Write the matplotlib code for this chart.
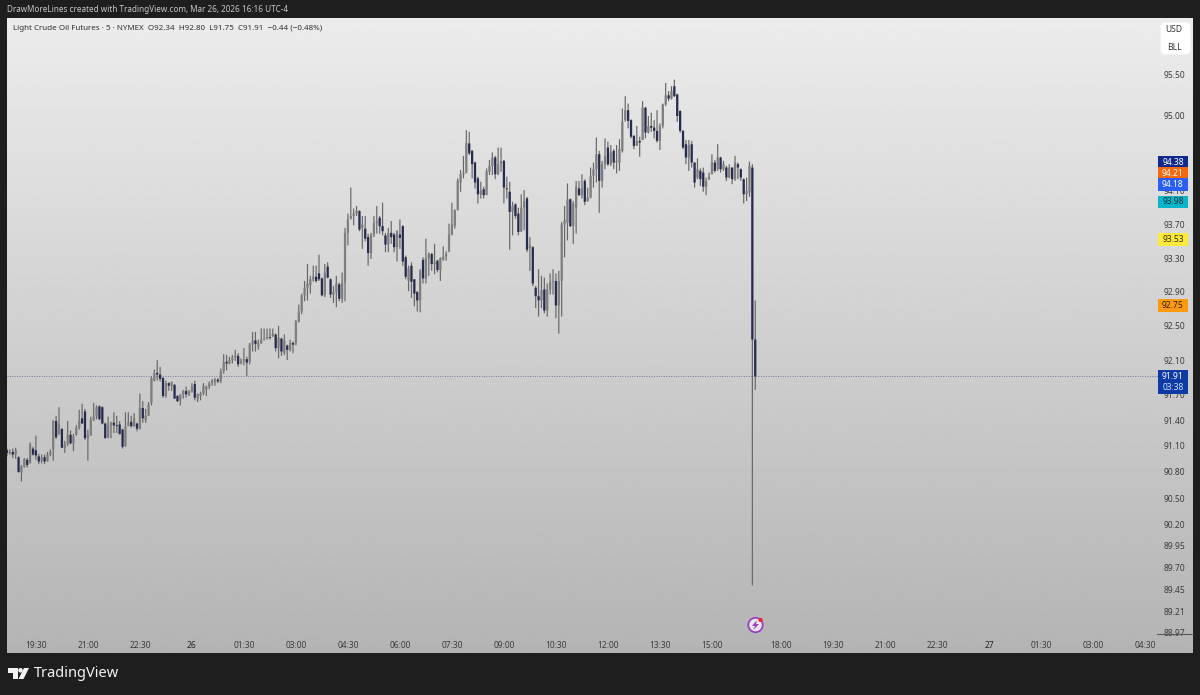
import numpy as np
import matplotlib
matplotlib.use('Agg')
import matplotlib.pyplot as plt
from matplotlib.patches import Polygon, Circle, FancyBboxPatch, Rectangle

plt.rcParams['font.family'] = ['Noto Sans', 'DejaVu Sans']

# 5 min bars, first bar 18:40, last one 16:15
opens = [
    91.05, 91.02, 91.03, 91.00, 90.97, 90.80, 90.86, 90.94, 90.90, 91.07,
    91.05, 90.98, 90.93, 90.97, 90.92, 91.00, 91.06, 91.39, 91.24, 91.30,
    91.08, 91.12, 91.23, 91.13, 91.23, 91.31, 91.42, 91.50, 91.19, 91.22,
    91.40, 91.44, 91.56, 91.55, 91.36, 91.20, 91.34, 91.37, 91.34, 91.35,
    91.29, 91.10, 91.33, 91.38, 91.33, 91.36, 91.30, 91.54, 91.40, 91.45,
    91.60, 91.86, 91.95, 91.93, 91.89, 91.68, 91.83, 91.80, 91.81, 91.68,
    91.63, 91.70, 91.74, 91.70, 91.73, 91.82, 91.65, 91.68, 91.71, 91.76,
    91.79, 91.83, 91.85, 91.87, 91.85, 91.97, 92.08, 92.06, 92.10, 92.13,
    92.15, 92.06, 92.09, 92.11, 92.08, 92.28, 92.33, 92.26, 92.30, 92.34,
    92.35, 92.37, 92.38, 92.40, 92.24, 92.35, 92.18, 92.27, 92.22, 92.30,
    92.30, 92.55, 92.67, 92.86, 92.95, 92.98, 93.05, 93.08, 93.12, 93.06,
    92.86, 93.20, 93.05, 92.87, 92.90, 92.99, 92.82, 93.01, 93.60, 93.77,
    93.80, 93.83, 93.86, 93.66, 93.65, 93.55, 93.36, 93.58, 93.72, 93.78,
    93.68, 93.57, 93.46, 93.60, 93.58, 93.43, 93.58, 93.68, 93.31, 93.03,
    93.21, 93.05, 92.90, 92.80, 93.28, 93.06, 93.30, 93.35, 93.23, 93.27,
    93.16, 93.28, 93.32, 93.38, 93.58, 93.68, 93.87, 94.20, 94.30, 94.32,
    94.67, 94.58, 94.44, 94.25, 94.06, 94.12, 94.05, 94.33, 94.40, 94.50,
    94.30, 94.42, 94.46, 94.13, 94.09, 93.85, 93.94, 93.83, 93.62, 93.90,
    94.01, 93.42, 93.43, 92.95, 92.85, 92.80, 92.93, 92.68, 92.93, 93.02,
    93.03, 92.74, 93.03, 93.70, 93.72, 94.00, 93.68, 93.90, 94.13, 94.05,
    94.22, 93.98, 94.02, 94.28, 94.36, 94.54, 94.22, 94.42, 94.62, 94.42,
    94.58, 94.44, 94.44, 94.58, 94.95, 95.07, 94.95, 94.76, 94.64, 94.70,
    94.71, 95.10, 94.80, 94.88, 94.86, 94.82, 94.70, 94.88, 95.14, 95.25,
    95.21, 95.36, 95.26, 95.06, 94.82, 94.66, 94.50, 94.66, 94.44, 94.26,
    94.34, 94.32, 94.15, 94.24, 94.30, 94.44, 94.36, 94.50, 94.36, 94.38,
    94.26, 94.38, 94.24, 94.42, 94.36, 94.24, 94.06, 94.08, 94.38, 92.34,
]
highs = [
    91.07, 91.06, 91.07, 91.08, 90.98, 90.88, 90.96, 90.96, 91.14, 91.09,
    91.22, 91.01, 91.00, 91.00, 91.03, 91.06, 91.40, 91.45, 91.55, 91.30,
    91.16, 91.39, 91.28, 91.24, 91.34, 91.52, 91.59, 91.53, 91.29, 91.44,
    91.60, 91.57, 91.57, 91.56, 91.37, 91.44, 91.38, 91.49, 91.45, 91.39,
    91.30, 91.49, 91.49, 91.45, 91.48, 91.37, 91.71, 91.62, 91.53, 91.61,
    91.91, 91.99, 92.10, 92.02, 91.90, 91.86, 91.84, 91.85, 91.82, 91.69,
    91.70, 91.75, 91.79, 91.75, 91.83, 91.86, 91.71, 91.73, 91.83, 91.80,
    91.85, 91.88, 91.89, 91.89, 92.00, 92.17, 92.16, 92.14, 92.16, 92.22,
    92.18, 92.12, 92.24, 92.14, 92.30, 92.43, 92.43, 92.34, 92.47, 92.47,
    92.47, 92.47, 92.47, 92.41, 92.50, 92.36, 92.40, 92.28, 92.34, 92.32,
    92.57, 92.75, 92.88, 93.03, 93.23, 93.09, 93.21, 93.21, 93.34, 93.07,
    93.23, 93.25, 93.06, 92.97, 93.09, 93.01, 93.13, 93.66, 93.83, 94.14,
    93.89, 93.92, 93.87, 93.80, 93.80, 93.59, 93.60, 93.80, 93.92, 93.80,
    93.96, 93.60, 93.66, 93.74, 93.60, 93.63, 93.76, 93.69, 93.33, 93.21,
    93.25, 93.05, 92.91, 93.17, 93.31, 93.53, 93.37, 93.36, 93.47, 93.28,
    93.31, 93.44, 93.38, 93.71, 93.96, 93.88, 94.25, 94.35, 94.52, 94.83,
    94.81, 94.59, 94.45, 94.27, 94.21, 94.15, 94.37, 94.47, 94.56, 94.52,
    94.62, 94.62, 94.47, 94.27, 94.21, 93.97, 93.95, 93.90, 94.06, 94.11,
    94.03, 93.55, 93.44, 92.97, 93.17, 93.09, 93.07, 93.00, 93.12, 93.17,
    93.12, 93.15, 93.73, 93.92, 94.19, 94.01, 93.98, 94.22, 94.22, 94.30,
    94.24, 94.14, 94.38, 94.44, 94.74, 94.58, 94.46, 94.73, 94.69, 94.65,
    94.60, 94.65, 94.72, 95.09, 95.24, 95.15, 94.96, 94.77, 94.88, 94.75,
    95.18, 95.11, 95.00, 95.04, 94.95, 95.07, 94.91, 95.15, 95.40, 95.30,
    95.36, 95.44, 95.27, 95.07, 94.83, 94.71, 94.71, 94.70, 94.44, 94.49,
    94.37, 94.38, 94.26, 94.32, 94.54, 94.47, 94.66, 94.51, 94.46, 94.40,
    94.42, 94.38, 94.52, 94.44, 94.37, 94.25, 94.26, 94.45, 94.42, 92.80,
]
lows = [
    90.98, 91.00, 90.96, 90.95, 90.79, 90.69, 90.85, 90.85, 90.90, 90.99,
    90.94, 90.89, 90.90, 90.89, 90.92, 90.98, 90.93, 91.18, 91.23, 91.08,
    91.02, 91.10, 91.12, 91.04, 91.22, 91.29, 91.36, 91.17, 90.93, 91.22,
    91.39, 91.41, 91.40, 91.35, 91.19, 91.19, 91.19, 91.25, 91.25, 91.23,
    91.07, 91.09, 91.33, 91.31, 91.32, 91.27, 91.29, 91.37, 91.37, 91.45,
    91.57, 91.85, 91.86, 91.85, 91.66, 91.66, 91.74, 91.74, 91.65, 91.61,
    91.57, 91.65, 91.66, 91.68, 91.72, 91.63, 91.61, 91.63, 91.69, 91.68,
    91.76, 91.80, 91.80, 91.83, 91.83, 91.94, 91.98, 92.05, 92.06, 92.09,
    92.02, 92.05, 92.04, 91.91, 92.05, 92.20, 92.20, 92.22, 92.29, 92.33,
    92.34, 92.34, 92.37, 92.20, 92.12, 92.15, 92.16, 92.10, 92.20, 92.18,
    92.27, 92.54, 92.64, 92.79, 92.80, 92.88, 93.02, 93.01, 93.03, 92.85,
    92.84, 93.06, 92.83, 92.77, 92.72, 92.79, 92.77, 92.79, 93.45, 93.76,
    93.69, 93.80, 93.62, 93.41, 93.50, 93.21, 93.29, 93.55, 93.59, 93.59,
    93.57, 93.37, 93.37, 93.47, 93.37, 93.26, 93.41, 93.21, 93.05, 92.91,
    92.83, 92.73, 92.67, 92.66, 93.00, 93.00, 93.09, 93.15, 93.11, 93.13,
    93.03, 93.27, 93.27, 93.37, 93.57, 93.65, 93.87, 94.09, 94.25, 94.31,
    94.53, 94.25, 94.13, 93.95, 94.01, 94.01, 94.05, 94.29, 94.29, 94.24,
    94.29, 94.33, 93.95, 94.01, 93.40, 93.57, 93.77, 93.57, 93.61, 93.63,
    93.37, 93.15, 92.97, 92.71, 92.61, 92.71, 92.65, 92.61, 92.87, 92.87,
    92.59, 92.41, 92.61, 93.31, 93.51, 93.67, 93.47, 93.59, 94.04, 94.01,
    93.93, 93.97, 94.01, 94.14, 94.20, 93.84, 94.14, 94.36, 94.40, 94.40,
    94.36, 94.31, 94.34, 94.56, 94.93, 94.85, 94.73, 94.60, 94.64, 94.51,
    94.71, 94.73, 94.79, 94.81, 94.73, 94.68, 94.59, 94.85, 95.12, 95.18,
    95.20, 95.23, 94.93, 94.80, 94.60, 94.42, 94.34, 94.38, 94.14, 94.24,
    94.16, 94.09, 94.05, 94.23, 94.30, 94.32, 94.34, 94.32, 94.34, 94.22,
    94.25, 94.18, 94.22, 94.24, 94.22, 93.95, 93.98, 94.03, 89.50, 91.75,
]
closes = [
    91.02, 91.03, 91.00, 91.05, 90.80, 90.86, 90.95, 90.88, 91.12, 91.00,
    90.99, 90.92, 90.97, 90.92, 91.00, 91.03, 91.39, 91.20, 91.35, 91.08,
    91.12, 91.23, 91.13, 91.21, 91.31, 91.39, 91.36, 91.19, 91.23, 91.40,
    91.44, 91.55, 91.41, 91.36, 91.19, 91.34, 91.37, 91.34, 91.33, 91.24,
    91.09, 91.33, 91.38, 91.33, 91.42, 91.30, 91.54, 91.42, 91.45, 91.58,
    91.89, 91.95, 91.93, 91.88, 91.68, 91.83, 91.80, 91.84, 91.65, 91.62,
    91.70, 91.74, 91.70, 91.73, 91.79, 91.66, 91.70, 91.71, 91.80, 91.79,
    91.83, 91.86, 91.87, 91.85, 91.97, 92.07, 92.06, 92.10, 92.13, 92.15,
    92.05, 92.09, 92.11, 92.07, 92.28, 92.33, 92.29, 92.30, 92.34, 92.35,
    92.37, 92.36, 92.41, 92.24, 92.36, 92.20, 92.33, 92.22, 92.30, 92.28,
    92.55, 92.67, 92.86, 92.95, 93.00, 93.05, 93.08, 93.03, 93.05, 92.86,
    93.13, 93.07, 92.87, 92.90, 93.00, 92.82, 93.01, 93.60, 93.76, 93.80,
    93.83, 93.86, 93.64, 93.70, 93.53, 93.36, 93.58, 93.72, 93.74, 93.68,
    93.62, 93.46, 93.60, 93.55, 93.43, 93.62, 93.54, 93.26, 93.08, 93.18,
    93.02, 92.88, 92.80, 93.15, 93.06, 93.30, 93.35, 93.23, 93.25, 93.16,
    93.30, 93.32, 93.35, 93.58, 93.70, 93.87, 94.22, 94.30, 94.32, 94.67,
    94.55, 94.42, 94.20, 94.06, 94.10, 94.05, 94.34, 94.40, 94.50, 94.30,
    94.42, 94.46, 94.14, 94.12, 93.85, 93.92, 93.80, 93.61, 93.90, 93.98,
    93.40, 93.45, 93.00, 92.85, 92.80, 92.92, 92.68, 92.93, 93.02, 93.03,
    92.74, 93.03, 93.70, 93.75, 94.00, 93.68, 93.95, 94.15, 94.05, 94.13,
    93.97, 94.02, 94.28, 94.36, 94.54, 94.22, 94.42, 94.52, 94.42, 94.56,
    94.44, 94.46, 94.60, 94.93, 95.07, 94.94, 94.75, 94.64, 94.70, 94.68,
    95.10, 94.80, 94.88, 94.86, 94.82, 94.70, 94.88, 95.14, 95.25, 95.21,
    95.30, 95.24, 95.00, 94.82, 94.62, 94.50, 94.65, 94.44, 94.20, 94.36,
    94.24, 94.15, 94.22, 94.27, 94.44, 94.34, 94.50, 94.36, 94.42, 94.26,
    94.38, 94.24, 94.44, 94.38, 94.26, 94.06, 94.10, 94.40, 92.34, 91.91,
]

price_ticks = [95.50, 95.00, 94.10, 93.70, 93.30, 92.90, 92.50, 92.10, 91.70, 91.40,
               91.10, 90.80, 90.50, 90.20, 89.95, 89.70, 89.45, 89.21, 88.97]
time_pos = [10, 28, 46, 64, 82, 100, 118, 136, 154, 172, 190, 208, 226, 244,
            268, 286, 304, 322, 340, 358, 376, 394]
time_labels = ['19:30', '21:00', '22:30', '26', '01:30', '03:00', '04:30', '06:00',
               '07:30', '09:00', '10:30', '12:00', '13:30', '15:00', '18:00',
               '19:30', '21:00', '22:30', '27', '01:30', '03:00', '04:30']
last_price = 91.91
tag_prices = [94.38, 94.21, 94.18, 93.98, 93.53, 92.75]
tag_colors = ['#0f2a8c', '#f7680f', '#2a5ff5', '#07b4c8', '#fdea3c', '#fb9a10']
tag_text = ['white', 'white', 'white', '#10303a', '#333300', '#332000']
# tradingview pushes labels apart so they dont sit on each other (pixels up)
tag_shift = [5, 8.5, 0, -1, -1, -1]

W, H = 1200, 695


def px(x, y):
    return x / W, 1 - y / H


fig = plt.figure(figsize=(12, 6.95), dpi=100, facecolor='#1e1e1e')

# grey panel
bg = fig.add_axes([7 / W, 1 - 653 / H, 1186 / W, 635 / H], zorder=0)
bg.imshow(np.linspace(0.925, 0.705, 256).reshape(-1, 1), cmap='gray', vmin=0, vmax=1,
          aspect='auto')
bg.axis('off')

# chart
ax = fig.add_axes([7 / W, 1 - 634 / H, 1151 / W, 616 / H], zorder=1)
ax.patch.set_alpha(0)
ax.set_yscale('log')
ax.set_xlim(0, 1151 / 2.889)
ax.set_ylim(88.95, 96.19)

o = np.array(opens)
c = np.array(closes)
x = np.arange(len(o))
down = c < o
wicks = ax.vlines(x, lows, highs, color='#666666', lw=0.85, zorder=2)
wicks.set_snap(False)
up_bars = ax.bar(x[~down], (c - o)[~down], bottom=o[~down], width=0.78, color='#7e7e7e', zorder=3)
down_bars = ax.bar(x[down], (o - c)[down], bottom=c[down], width=0.78, color='#262c50', zorder=3)
for b in list(up_bars) + list(down_bars):
    b.set_snap(False)

ax.axhline(last_price, color='#767aa6', lw=0.7, ls=(0, (1, 1.5)), zorder=1)

for s in ax.spines.values():
    s.set_visible(False)

ax.yaxis.tick_right()
ax.yaxis.set_minor_locator(matplotlib.ticker.NullLocator())
ax.yaxis.set_minor_formatter(matplotlib.ticker.NullFormatter())
ax.set_yticks(price_ticks)
ax.set_yticklabels(['%.2f' % p for p in price_ticks])
ax.tick_params(axis='y', length=0, pad=4.3, labelsize=6.1, labelcolor='#3c3c3c')
ax.set_xticks(time_pos)
ax.set_xticklabels(time_labels)
ax.tick_params(axis='x', length=0, pad=5.0, labelsize=6.1, labelcolor='#3c3c3c')
for lab in ax.get_xticklabels():
    if lab.get_text() in ('26', '27'):
        lab.set_fontweight('bold')
        lab.set_color('#222222')

# line under the price scale
fig.add_artist(plt.Line2D([1157 / W, 1193 / W], [1 - 634 / H] * 2, color='#5a5a5a', lw=0.8))

# texts on top
tx, ty = px(7, 10)
fig.text(tx, ty, 'DrawMoreLines created with TradingView.com, Mar 26, 2026 16:16 UTC-4',
         color='#c8c8c8', fontsize=5.85, va='center')
tx, ty = px(13, 29)
fig.text(tx, ty, 'Light Crude Oil Futures · 5 · NYMEX  O92.34  H92.80  L91.75  C91.91  −0.44 (−0.48%)',
         color='#303030', fontsize=5.75, va='center', zorder=5)

# overlay in image pixels
ov = fig.add_axes([0, 0, 1, 1], zorder=5)
ov.set_xlim(0, W)
ov.set_ylim(H, 0)
ov.axis('off')


def price_y(p):
    return H - ax.transData.transform((0, p))[1]


# price tags on the axis
for p, col, tcol, shift in zip(tag_prices, tag_colors, tag_text, tag_shift):
    yp = price_y(p) - shift
    ov.add_patch(Rectangle((1158, yp - 6.3), 30, 12.6, fc=col, ec='none'))
    ov.text(1173, yp, '%.2f' % p, ha='center', va='center', fontsize=6.1, color=tcol,
            fontweight='medium')
yp = price_y(last_price)
ov.add_patch(Rectangle((1158, yp - 6.3), 30, 23.5, fc='#0e3aa6', ec='none'))
ov.text(1173, yp, '%.2f' % last_price, ha='center', va='center', fontsize=6.1, color='white',
        fontweight='bold')
ov.text(1173, yp + 11, '03:38', ha='center', va='center', fontsize=6.1, color='#d5def5')

# USD / BLL box
ov.add_patch(FancyBboxPatch((1162, 24), 27, 29, boxstyle='round,pad=0,rounding_size=3',
                            fc='white', ec='white', lw=2))
ov.text(1174, 30, 'USD', ha='center', va='center', fontsize=6.1, color='#333333')
ov.text(1174, 48, 'BLL', ha='center', va='center', fontsize=6.1, color='#333333')

# news icon
ov.add_patch(Circle((755.5, 625), 7.2, fc='#ece6f2', ec='#9a3fc0', lw=1.3))
ov.add_patch(Polygon([(757, 620), (752, 626), (755, 626), (753.5, 630), (759, 624), (756, 624)],
                     fc='#9a3fc0', ec='none'))
ov.add_patch(Circle((760.5, 620), 2.1, fc='#e8262d', ec='none'))

# logo
ov.add_patch(Polygon([(8, 668), (17.5, 668), (17.5, 679), (13, 679), (13, 672.5), (8, 672.5)],
                     fc='#f2f2f2', ec='none'))
ov.add_patch(Circle((20.5, 670.3), 2.3, fc='#f2f2f2', ec='none'))
ov.add_patch(Polygon([(24, 668), (29, 668), (23.5, 679), (18.5, 679)], fc='#f2f2f2', ec='none'))
ov.text(34, 673.5, 'TradingView', ha='left', va='center', fontsize=10.5, color='#f2f2f2',
        fontweight='medium')

fig.savefig('out.png', dpi=100, facecolor=fig.get_facecolor())
